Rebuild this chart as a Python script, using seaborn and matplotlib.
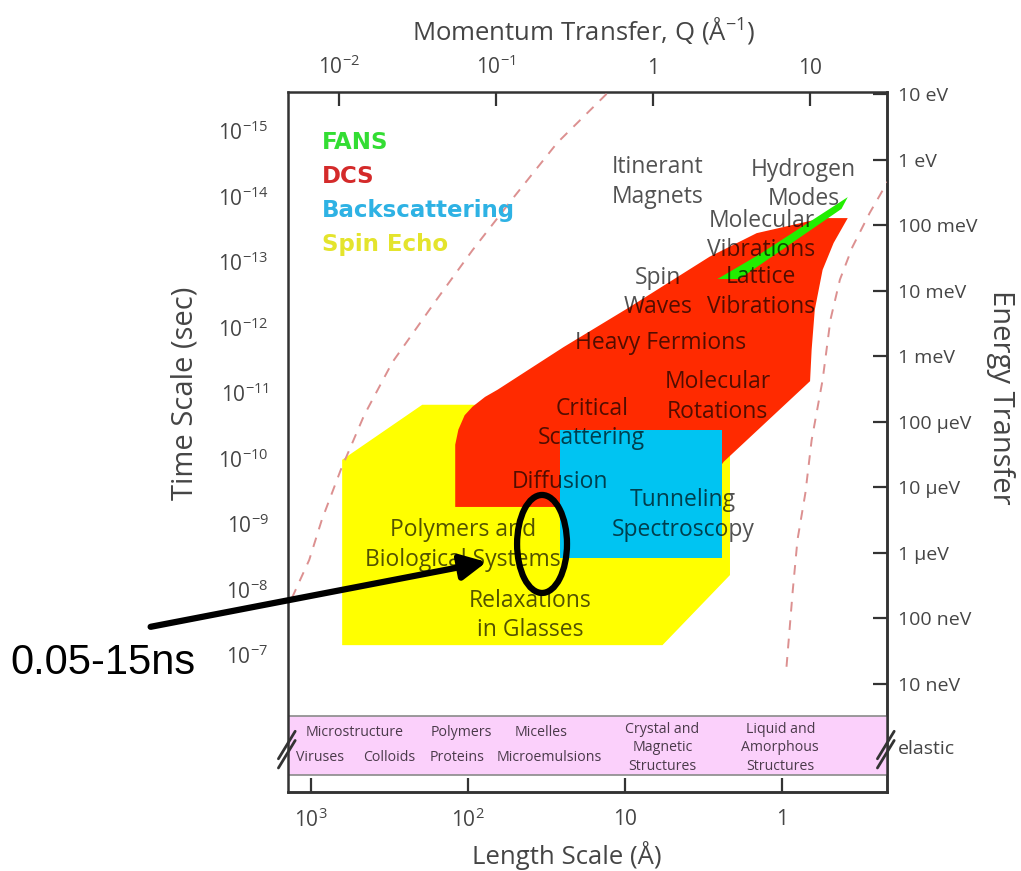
import matplotlib
matplotlib.use("Agg")
import matplotlib.pyplot as plt
from matplotlib.patches import Ellipse
import matplotlib.transforms as mtransforms
import seaborn as sns

# ---- instrument coverage, vertices as (log10 Q [1/Å], log10 time [s]) ----
fans_logq = [0.41, 0.68, 1.24, 1.20, 0.55]
fans_logt = [-12.74, -13.12, -13.99, -13.81, -12.74]

dcs_logq = [-1.26, -1.26, -1.24, -1.20, -1.15, -1.07, -0.99, -0.57, -0.15, 0.36,
            0.66, 1.08, 1.24, 1.15, 1.08, 1.03, 1.01, 1.00, 0.45, 0.24]
dcs_logt = [-9.26, -10.21, -10.44, -10.66, -10.79, -10.94, -11.05, -11.70, -12.31, -13.08,
            -13.44, -13.67, -13.67, -13.29, -12.88, -12.27, -11.66, -11.18, -9.95, -9.26]

backscatter_logq = [-0.59, 0.44, 0.44, -0.59]
backscatter_logt = [-10.44, -10.44, -8.48, -8.48]

spinecho_logq = [-1.98, -1.98, -1.47, 0.17, 0.49, 0.49, 0.06]
spinecho_logt = [-7.15, -9.98, -10.82, -10.82, -10.05, -8.22, -7.15]

# ---- kinematic limits (dashed) ----
limit_left_logq = [-2.30, -2.19, -2.11, -1.99, -1.84, -1.66, -1.38, -1.15, -0.89, -0.61, -0.29]
limit_left_logt = [-7.87, -8.45, -9.06, -9.82, -10.66, -11.47, -12.42, -13.18, -13.98, -14.82, -15.58]
limit_right_logq = [0.85, 0.89, 0.92, 0.97, 1.01, 1.08, 1.13, 1.19, 1.27, 1.38, 1.50]
limit_right_logt = [-6.82, -7.99, -8.76, -9.47, -10.28, -11.20, -12.12, -12.73, -13.23, -13.75, -14.25]

# ---- phenomena labels ----
region_labels = ["Itinerant\nMagnets", "Hydrogen\nModes", "Molecular\nVibrations",
                 "Spin\nWaves", "Lattice\nVibrations", "Heavy Fermions",
                 "Molecular\nRotations", "Critical\nScattering", "Diffusion",
                 "Tunneling\nSpectroscopy", "Polymers and\nBiological Systems",
                 "Relaxations\nin Glasses"]
region_logq = [0.03, 0.96, 0.69, 0.03, 0.69, 0.05, 0.41, -0.39, -0.59, 0.19, -1.21, -0.78]
region_logt = [-14.22, -14.18, -13.40, -12.53, -12.54, -11.76, -10.94, -10.53, -9.64, -9.14, -8.68, -7.60]

# ---- structures in the elastic band ----
struct_labels = ["Microstructure", "Viruses", "Colloids", "Polymers", "Proteins",
                 "Micelles", "Microemulsions", "Crystal and\nMagnetic\nStructures",
                 "Liquid and\nAmorphous\nStructures"]
struct_logq = [-1.90, -2.12, -1.68, -1.22, -1.25, -0.71, -0.66, 0.06, 0.81]
struct_logt = [-5.82, -5.43, -5.43, -5.82, -5.43, -5.82, -5.43, -5.58, -5.58]

legend_names = ["FANS", "DCS", "Backscattering", "Spin Echo"]
legend_colors = ["#33dd33", "#d42a2a", "#2eb2e4", "#e4e42c"]

# ---- axes ticks ----
q_ticks = [-2, -1, 0, 1]
q_ticklabels = [r"$\mathregular{10^{-2}}$", r"$\mathregular{10^{-1}}$", "1", "10"]
length_ticks = [3, 2, 1, 0]
length_ticklabels = [r"$\mathregular{10^{3}}$", r"$\mathregular{10^{2}}$", "10", "1"]
time_ticks = [-15, -14, -13, -12, -11, -10, -9, -8, -7]
time_ticklabels = [r"$\mathregular{10^{%d}}$" % t for t in time_ticks]
energy_ticks = [1, 0, -1, -2, -3, -4, -5, -6, -7, -8]
energy_ticklabels = ["10 eV", "1 eV", "100 meV", "10 meV", "1 meV", "100 µeV",
                     "10 µeV", "1 µeV", "100 neV", "10 neV"]

elastic_band = (-6.07, -5.17)
elastic_logt = -5.565
highlight_center = (-0.707, -8.695)
highlight_size = (0.318, 1.496)
arrow_tip = (-1.06, -8.42)
arrow_tail = (-3.20, -7.43)

# conversions between the main axis coordinates and the secondary scales
Q_OF_LENGTH = 0.82      # log10 Q = 0.82 - log10 d
T_OF_ENERGY = -14.56    # log10 t = -14.56 - log10 E

sns.set_theme(style="white")
plt.rcParams["font.family"] = ["Open Sans", "DejaVu Sans"]
plt.rcParams["mathtext.default"] = "regular"

W, H = 1021, 871
fig = plt.figure(figsize=(W / 100, H / 100), dpi=100)
ax = fig.add_axes([288 / W, 1 - 792 / H, (887 - 288) / W, (792 - 92) / H])
ax.set_xlim(-2.325, 1.49)
ax.set_ylim(-4.908, -15.595)

spine_col = "#333333"
text_col = "#454545"

# filled coverage regions
ax.fill(spinecho_logq, spinecho_logt, color="#ffff00", lw=0, zorder=1)
ax.fill(dcs_logq, dcs_logt, color="#ff2a00", lw=0, zorder=2)
ax.fill(backscatter_logq, backscatter_logt, color="#00c4f2", lw=0, zorder=3)
ax.fill(fans_logq, fans_logt, color="#22ee00", lw=0, zorder=4)

# dashed kinematic limits
for lq, lt in [(limit_left_logq, limit_left_logt), (limit_right_logq, limit_right_logt)]:
    sns.lineplot(x=lq, y=lt, sort=False, estimator=None, ax=ax, color="#dc9090",
                 lw=1.4, dashes=False, zorder=5)
for line in ax.lines:
    line.set_dashes([5, 4.5])

# elastic band
ax.axhspan(*elastic_band, color="#fbd0fb", lw=0, zorder=1)
for yb in elastic_band:
    ax.axhline(yb, color="#8a8a8a", lw=1.2, zorder=2)

# phenomena labels
for lab, x, y in zip(region_labels, region_logq, region_logt):
    ax.text(x, y, lab, ha="center", va="center", fontsize=16.5, color="black",
            alpha=0.68, linespacing=1.3, zorder=6)

for lab, x, y in zip(struct_labels, struct_logq, struct_logt):
    ax.text(x, y, lab, ha="center", va="center", fontsize=10.2, color="#4a3a4a",
            linespacing=1.3, zorder=6)

# technique legend
for i, (name, col) in enumerate(zip(legend_names, legend_colors)):
    ax.text(-2.11, -14.817 + i * 0.519, name, ha="left", va="center", fontsize=16.5,
            fontweight="bold", family="DejaVu Sans", color=col, zorder=6)

# ticks: Q on top, time on left
ax.xaxis.tick_top()
ax.set_xticks(q_ticks, q_ticklabels)
ax.set_yticks(time_ticks, time_ticklabels)
ax.tick_params(axis="both", direction="in", length=10, width=1.6, color=spine_col,
               labelcolor=text_col, labelsize=15)
ax.tick_params(axis="x", pad=9)
ax.tick_params(axis="y", pad=14)
ax.grid(False)
for s in ax.spines.values():
    s.set_color(spine_col)
    s.set_linewidth(1.8)
    s.set_visible(True)

# length scale on bottom, energy on right
secx = ax.secondary_xaxis("bottom", functions=(lambda q: Q_OF_LENGTH - q,
                                               lambda d: Q_OF_LENGTH - d))
secx.set_xticks(length_ticks, length_ticklabels)
secx.tick_params(direction="in", length=10, width=1.6, color=spine_col,
                 labelcolor=text_col, labelsize=15, pad=12)
secx.spines["bottom"].set_color(spine_col)
secx.spines["bottom"].set_linewidth(1.8)

secy = ax.secondary_yaxis("right", functions=(lambda t: T_OF_ENERGY - t,
                                              lambda e: T_OF_ENERGY - e))
secy.set_yticks(energy_ticks, energy_ticklabels)
secy.tick_params(direction="in", length=10, width=1.6, color=spine_col,
                 labelcolor=text_col, labelsize=14, pad=8)
secy.spines["right"].set_color(spine_col)
secy.spines["right"].set_linewidth(1.8)

# elastic label and axis breaks
bt = mtransforms.blended_transform_factory(ax.transAxes, ax.transData)
ax.text(1.018, elastic_logt, "elastic", transform=bt, ha="left", va="center",
        fontsize=14, color=text_col, clip_on=False)
for xa in (0.0, 1.0):
    for off in (-0.07, 0.07):
        ax.plot([xa - 0.016, xa + 0.012], [elastic_logt + 0.22 + off, elastic_logt - 0.2 + off],
                transform=bt, color=spine_col, lw=2, clip_on=False, zorder=7)

# axis titles
fig.text(584 / W, 1 - 30 / H, r"Momentum Transfer, Q (Å$\mathregular{^{-1}}$)",
         ha="center", va="center", fontsize=18.5, color=text_col)
fig.text(567 / W, 1 - 855 / H, "Length Scale (Å)", ha="center", va="center",
         fontsize=18.5, color=text_col)
fig.text(185 / W, 1 - 393 / H, "Time Scale (sec)", ha="center", va="center",
         rotation=90, fontsize=21, color=text_col)
fig.text(1000 / W, 1 - 397 / H, "Energy Transfer", ha="center", va="center",
         rotation=-90, fontsize=21, color=text_col)

# highlighted window with pointer
ax.add_patch(Ellipse(highlight_center, highlight_size[0], highlight_size[1],
                     fill=False, ec="black", lw=4.5, zorder=8))
ax.annotate("", xy=arrow_tip, xytext=arrow_tail, annotation_clip=False,
            arrowprops=dict(arrowstyle="-|>", color="black", lw=4.5,
                            mutation_scale=38, shrinkA=0, shrinkB=0), zorder=8)
fig.text(10 / W, 1 - 663 / H, "0.05-15ns", ha="left", va="center", fontsize=30,
         family="Liberation Sans", color="black")

fig.savefig("out.png", dpi=100)
